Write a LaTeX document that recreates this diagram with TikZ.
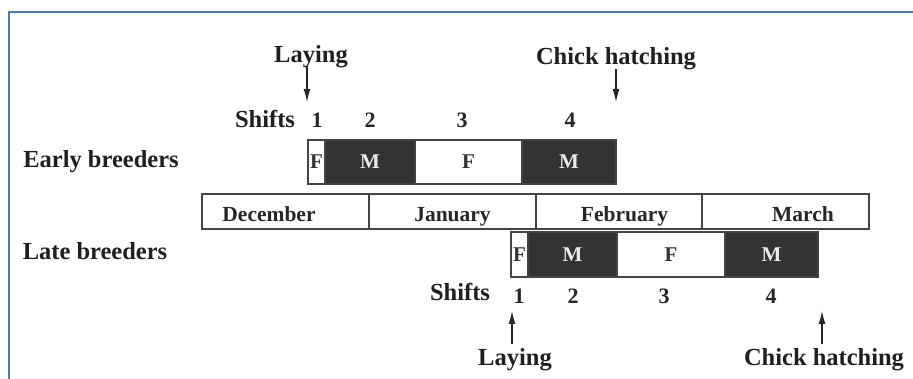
\documentclass[tikz,border=0pt]{standalone}
\usepackage{fontspec}
\setmainfont{Liberation Serif}
\usetikzlibrary{arrows.meta}
\definecolor{frameblue}{HTML}{4A7EBB}
\definecolor{darkcell}{HTML}{333333}
\definecolor{edgegray}{HTML}{444444}
\tikzset{
  cell/.style={draw=edgegray, line width=1.3pt, rectangle, inner sep=0pt,
    font=\fontsize{21}{21}\selectfont\bfseries},
  femcell/.style={cell, fill=white, text=darkcell},
  malecell/.style={cell, fill=darkcell, text=white!92!black},
  monthcell/.style={draw=edgegray, line width=1.1pt, rectangle, inner sep=0pt,
    minimum height=35pt},
  monthlabel/.style={font=\fontsize{21.5}{21.5}\selectfont\bfseries, text=black!85,
    inner sep=0pt, anchor=base},
  biglabel/.style={font=\fontsize{24.5}{24.5}\selectfont\bfseries, text=black!88,
    inner sep=0pt, anchor=base},
  numlabel/.style={font=\fontsize{22}{22}\selectfont\bfseries, text=black!85,
    inner sep=0pt, anchor=base},
  eventarrow/.style={-{Latex[length=13pt,width=7pt]}, line width=1.1pt, black!85}
}
\begin{document}
\begin{tikzpicture}[x=1pt,y=-1pt]
\useasboundingbox (0,0) rectangle (913,379);
\fill[white] (0,0) rectangle (913,379);
% frame
\draw[frameblue, line width=2pt] (9,379) -- (9,12) -- (913,12);

% row labels
\node[biglabel] (early) at (101,168) {Early breeders};
\node[biglabel] (late) at (95,260) {Late breeders};

% early breeders: incubation shifts
\node[femcell, minimum width=17pt, minimum height=44pt] (eF1) at (316.5,162) {F};
\node[malecell, minimum width=90pt, minimum height=44pt] (eM2) at (370,162) {M};
\node[femcell, minimum width=107pt, minimum height=44pt] (eF3) at (468.5,162) {F};
\node[malecell, minimum width=94pt, minimum height=44pt] (eM4) at (569,162) {M};

% month scale
\node[monthcell, minimum width=167pt] (dec) at (285.5,211.5) {};
\node[monthcell, minimum width=167pt] (jan) at (452.5,211.5) {};
\node[monthcell, minimum width=166pt] (feb) at (619,211.5) {};
\node[monthcell, minimum width=167pt] (mar) at (785.5,211.5) {};
\node[monthlabel] (decl) at (269,222) {December};
\node[monthlabel] (janl) at (452.5,222) {January};
\node[monthlabel] (febl) at (624.5,222) {February};
\node[monthlabel] (marl) at (803,222) {March};

% late breeders: incubation shifts
\node[femcell, minimum width=17pt, minimum height=45pt] (lF1) at (519.5,254.5) {F};
\node[malecell, minimum width=89pt, minimum height=45pt] (lM2) at (572.5,254.5) {M};
\node[femcell, minimum width=108pt, minimum height=45pt] (lF3) at (671,254.5) {F};
\node[malecell, minimum width=93pt, minimum height=45pt] (lM4) at (771.5,254.5) {M};

% shift numbers, early
\node[biglabel] (eshift) at (265,128) {Shifts};
\node[numlabel] (en1) at (317,128) {1};
\node[numlabel] (en2) at (370,128) {2};
\node[numlabel] (en3) at (462,128) {3};
\node[numlabel] (en4) at (570,128) {4};

% shift numbers, late
\node[biglabel] (lshift) at (460,301) {Shifts};
\node[numlabel] (ln1) at (519,304) {1};
\node[numlabel] (ln2) at (573,304) {2};
\node[numlabel] (ln3) at (664,304) {3};
\node[numlabel] (ln4) at (771,304) {4};

% events, early
\node[biglabel] (elay) at (311,63) {Laying};
\node[biglabel] (ehatch) at (616,65) {Chick hatching};
\coordinate (elayS) at (307,66);
\coordinate (elayT) at (307,102);
\coordinate (ehatchS) at (616,69);
\coordinate (ehatchT) at (616,102);
\draw[eventarrow] (elayS) -- (elayT);
\draw[eventarrow] (ehatchS) -- (ehatchT);

% events, late
\node[biglabel] (llay) at (515,365) {Laying};
\node[biglabel] (lhatch) at (824,365) {Chick hatching};
\coordinate (llayS) at (512,344);
\coordinate (llayT) at (512,311);
\coordinate (lhatchS) at (822,344);
\coordinate (lhatchT) at (822,311);
\draw[eventarrow] (llayS) -- (llayT);
\draw[eventarrow] (lhatchS) -- (lhatchT);
\end{tikzpicture}
\end{document}
